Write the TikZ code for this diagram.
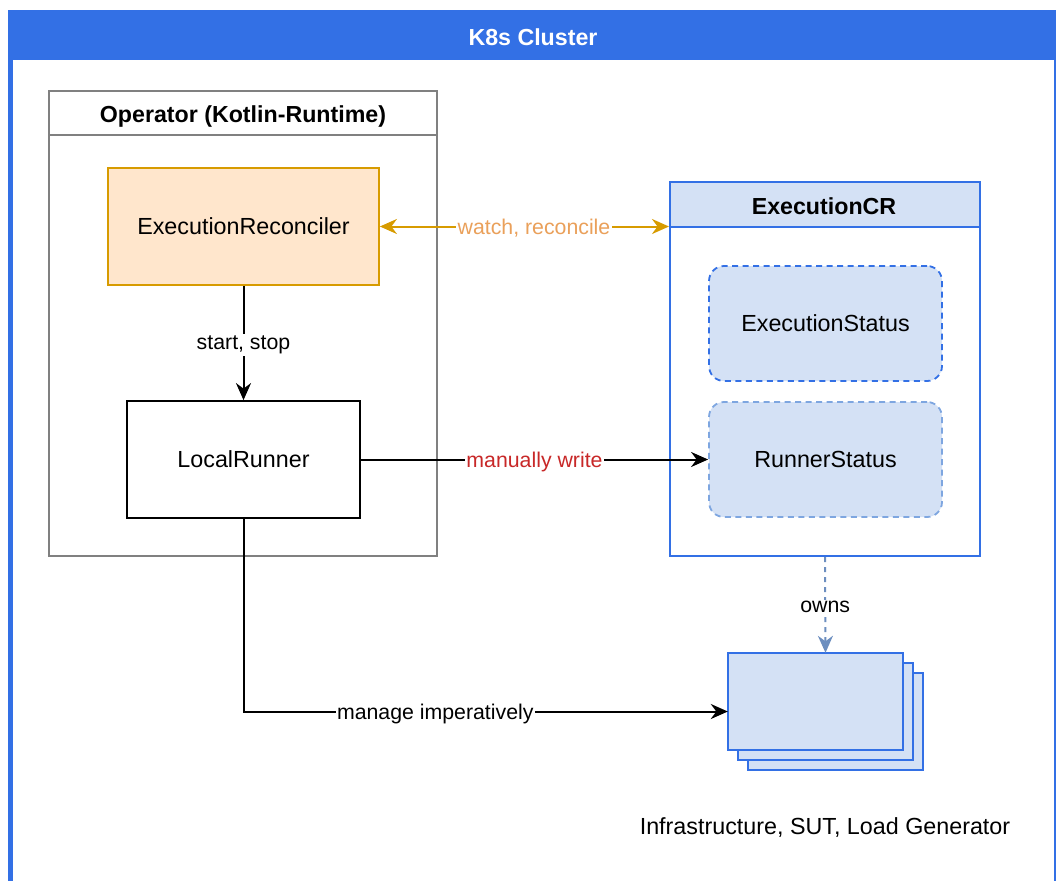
\documentclass[tikz,border=0pt]{standalone}
\usepackage{fontspec}
\setmainfont{Liberation Sans}
\usetikzlibrary{arrows.meta,calc}

\definecolor{clusterblue}{RGB}{51,112,229}
\definecolor{crfill}{RGB}{212,225,245}
\definecolor{softblue}{RGB}{126,166,224}
\definecolor{ownsblue}{RGB}{108,142,191}
\definecolor{recfill}{RGB}{255,230,204}
\definecolor{recstroke}{RGB}{215,155,0}
\definecolor{watchtext}{RGB}{234,160,90}
\definecolor{writered}{RGB}{200,40,40}
\definecolor{opgray}{RGB}{128,128,128}

\tikzset{
  nodefont/.style={font=\fontsize{23.3}{28}\selectfont},
  titlefont/.style={font=\fontsize{23.2}{28}\selectfont\bfseries},
  lblfont/.style={font=\fontsize{21.3}{25}\selectfont},
  box/.style={draw, line width=1.8pt, inner sep=0pt, nodefont},
  status/.style={box, rounded corners=15pt, fill=crfill, dash pattern=on 6pt off 4.5pt},
  conn/.style={line width=2pt, ->},
  lbl/.style={lblfont, fill=white, inner sep=1.5pt, yshift=-2pt},
}

\begin{document}
\begin{tikzpicture}[x=1pt,y=-1pt, >={Stealth[length=17pt,width=15pt,inset=5.5pt]}]
\useasboundingbox (0,0) rectangle (1056,881);

% K8s cluster container
\fill[clusterblue] (8,10) rectangle (1056,60);
\fill[clusterblue] (8,60) rectangle (13,881);
\draw[clusterblue, line width=2pt] (1055,60) -- (1055,881);
\node[titlefont, text=white] (cluster) at (533,37) {K8s Cluster};

% Operator container
\node[draw=opgray, line width=2pt, minimum width=388pt, minimum height=465pt, inner sep=0pt] (op) at (243,323.5) {};
\draw[opgray, line width=2pt] (49,135) -- (437,135);
\node[titlefont] (optitle) at (243,116) {Operator (Kotlin-Runtime)};

\node[box, draw=recstroke, fill=recfill, minimum width=271pt, minimum height=117pt] (rec) at (243.5,226.5) {ExecutionReconciler};
\node[box, fill=white, minimum width=233pt, minimum height=117pt] (lr) at (243.5,459.5) {LocalRunner};

% ExecutionCR container
\node[draw=clusterblue, line width=2pt, minimum width=310pt, minimum height=374pt, inner sep=0pt] (cr) at (825,369) {};
\fill[crfill] (671,183) rectangle (979,226);
\draw[clusterblue, line width=2pt] (670,182) rectangle (980,556);
\draw[clusterblue, line width=2pt] (670,226.5) -- (980,226.5);
\node[titlefont] (crtitle) at (824,206.5) {ExecutionCR};

\node[status, draw=clusterblue, minimum width=233pt, minimum height=115pt] (es) at (825.5,323.5) {ExecutionStatus};
\node[status, draw=softblue, minimum width=233pt, minimum height=115pt] (rs) at (825.5,459.5) {RunnerStatus};

% Stack of managed resources
\node[minimum width=195pt, minimum height=117pt, inner sep=0pt] (stack) at (825.5,711.5) {};
\foreach \d in {20,10,0}
  \draw[clusterblue, fill=crfill, line width=1.8pt] ($(stack.north west)+(\d,\d)$) rectangle ($(stack.north west)+(175+\d,97+\d)$);
\node[nodefont] (infra) at (825,828) {Infrastructure, SUT, Load Generator};

% Connectors
\draw[conn, recstroke, <->]
  (rec.east) -- node[lbl, text=watchtext, pos=0.533] {watch, reconcile} (rec.east -| cr.west);
\draw[conn] (rec.south) -- node[lbl] {start, stop} (lr.north);
\draw[conn] (lr.east) -- node[lbl, text=writered] {manually write} (rs.west);
\draw[conn, ownsblue, dash pattern=on 5pt off 5pt] (cr.south) -- node[lbl, text=black] {owns} (stack.north);
\draw[conn] (lr.south) |- node[lbl, pos=0.698] {manage imperatively} (stack.west);
\end{tikzpicture}
\end{document}
